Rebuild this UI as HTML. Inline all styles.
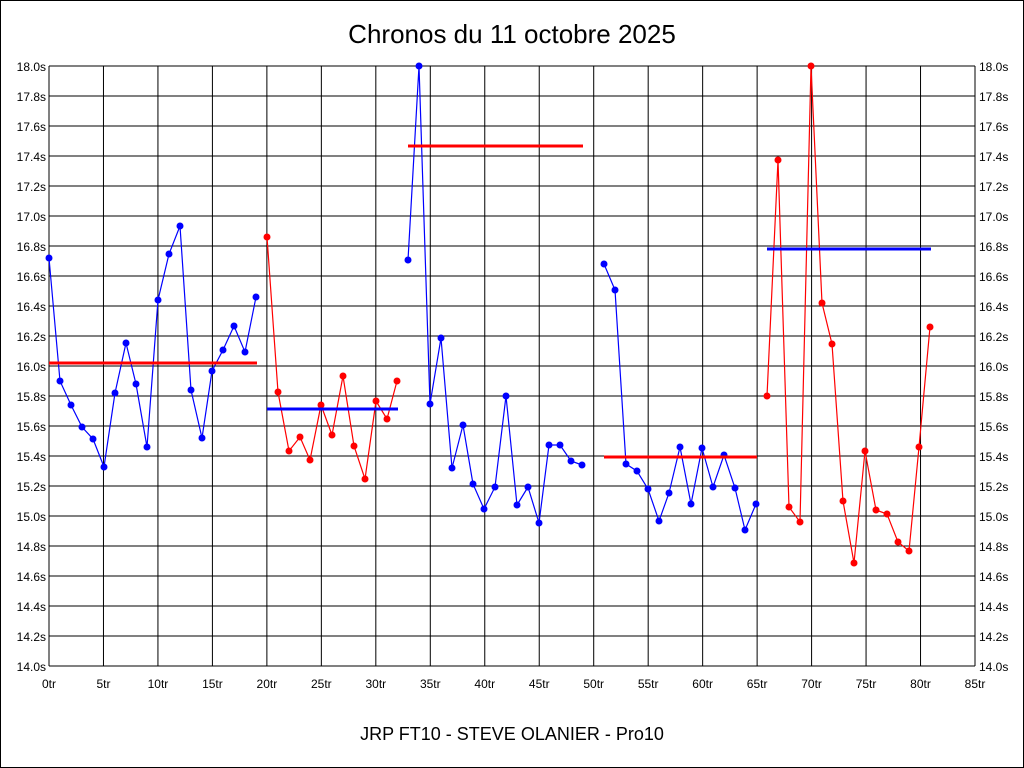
<!DOCTYPE html>
<html><head><meta charset="utf-8"><style>
body{margin:0;background:#fff}
svg{display:block;font-family:"Liberation Sans",sans-serif}
</style></head><body>
<svg id="s" width="1024" height="768" xmlns="http://www.w3.org/2000/svg">
<rect x="0.5" y="0.5" width="1023" height="767" fill="#fff" stroke="#000"/>
<text x="512" y="43" font-size="26" text-anchor="middle">Chronos du 11 octobre 2025</text>
<text x="512" y="740" font-size="18" text-anchor="middle">JRP FT10 - STEVE OLANIER - Pro10</text>
<g id="grid"></g><g id="data"></g>
</svg>
<script>
const NS="http://www.w3.org/2000/svg";
const g=document.getElementById('grid'),d=document.getElementById('data');
function el(p,t,a,txt){const e=document.createElementNS(NS,t);for(const k in a)e.setAttribute(k,a[k]);if(txt!==undefined)e.textContent=txt;p.appendChild(e);return e;}
const X0=49,X1=975,Y0=66,Y1=666;
for(let i=0;i<=20;i++){const y=Y0+i*30;el(g,'line',{x1:X0,x2:X1,y1:y,y2:y,stroke:'#000','stroke-width':1});
 const v=(18-i*0.2).toFixed(1)+'s';
 el(g,'text',{x:X0-3,y:y+5,'font-size':12,'text-anchor':'end'},v);
 el(g,'text',{x:X1+4,y:y+5,'font-size':12},v);}
for(let i=0;i<=17;i++){const x=X0+i*(X1-X0)/17;el(g,'line',{x1:x,x2:x,y1:Y0,y2:Y1,stroke:'#000','stroke-width':1});
 el(g,'text',{x:x,y:Y1+22,'font-size':12,'text-anchor':'middle'},(i*5)+'tr');}
const segs=[
['blue',[[49,258],[60,381],[71,405],[82,427],[93,439],[104,467],[115,393],[126,343],[136,384],[147,447],[158,300],[169,254],[180,226],[191,390],[202,438],[212,371],[223,350],[234,326],[245,352],[256,297]],'red',363,49,257],
['red',[[267,237],[278,392],[289,451],[300,437],[310,460],[321,405],[332,435],[343,376],[354,446],[365,479],[376,401],[387,419],[397,381]],'blue',409,267,398],
['blue',[[408,260],[419,66],[430,404],[441,338],[452,468],[463,425],[473,484],[484,509],[495,487],[506,396],[517,505],[528,487],[539,523],[549,445],[560,445],[571,461],[582,465]],'red',146,408,583],
['blue',[[604,264],[615,290],[626,464],[637,471],[648,489],[659,521],[669,493],[680,447],[691,504],[702,448],[713,487],[724,455],[735,488],[745,530],[756,504]],'red',457,604,757],
['red',[[767,396],[778,160],[789,507],[800,522],[811,66],[822,303],[832,344],[843,501],[854,563],[865,451],[876,510],[887,514],[898,542],[909,551],[919,447],[930,327]],'blue',249,767,931]];
for(const [c,p,mc,my,mx1,mx2] of segs){
 el(d,'polyline',{points:p.map(q=>q.join(',')).join(' '),fill:'none',stroke:c,'stroke-width':1.2});
 for(const q of p)el(d,'circle',{cx:q[0],cy:q[1],r:3.5,fill:c});
 el(d,'line',{x1:mx1,x2:mx2,y1:my,y2:my,stroke:mc,'stroke-width':3});
}
</script>
</body></html>
